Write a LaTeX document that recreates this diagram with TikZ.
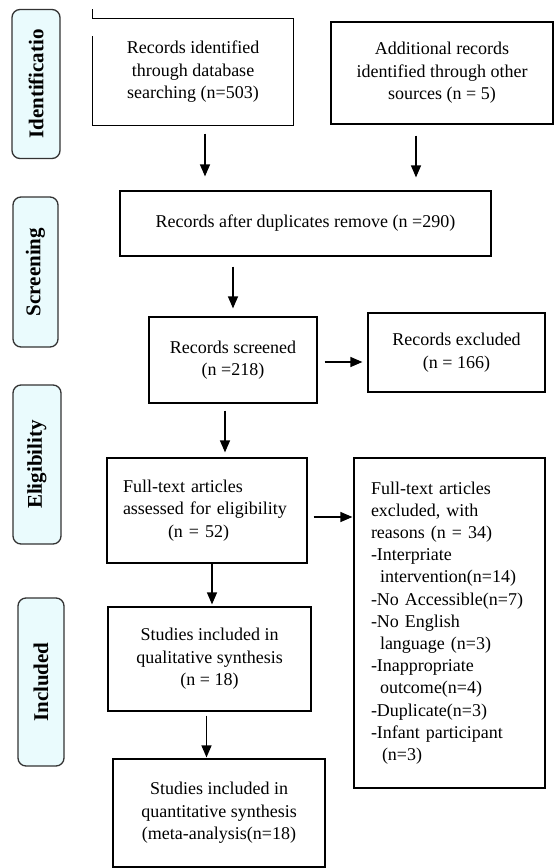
\documentclass[tikz,border=0pt]{standalone}
\usepackage{fontspec}
\setmainfont{Liberation Serif}
\usetikzlibrary{arrows.meta}
\definecolor{phasefill}{HTML}{EAFBFD}
\definecolor{phaseline}{HTML}{333333}

\begin{document}
\begin{tikzpicture}[x=1pt, y=-1pt,
    box/.style={draw, line width=1.2pt, inner sep=0pt, align=center, font=\fontsize{18}{22.5}\selectfont},
    phase/.style={draw=phaseline, fill=phasefill, rounded corners=8pt, line width=1.3pt, rotate=90, inner sep=0pt, font=\fontsize{21}{24}\selectfont\bfseries},
    arrow/.style={-{Triangle[length=12pt, width=10pt]}, line width=1.2pt}]
        \useasboundingbox (0,0) rectangle (554,868);

        \node[phase, minimum width=149pt, minimum height=48pt](ident) at (36,84) {Identificatio};
        \node[phase, minimum width=150pt, minimum height=45pt](screen) at (35.5,272) {Screening};
        \node[phase, minimum width=159pt, minimum height=48pt](elig) at (37,464.5) {Eligibility};
        \node[phase, minimum width=168pt, minimum height=46pt](incl) at (41,682) {Included};

        \node[box, draw=none, minimum width=200pt, minimum height=106pt](dbsearch) at (193,72) {Records identified\\through database\\searching (n=503)};
        \node[box, minimum width=222pt, minimum height=102pt](othersrc) at (442,73) {Additional records\\identified through other\\sources (n = 5)};
        \node[box, minimum width=371pt, minimum height=65pt](dupremoved) at (305.5,223.5) {Records after duplicates remove (n =290)};
        \node[box, minimum width=168pt, minimum height=86pt](screened) at (233,360) {Records screened\\(n =218)};
        \node[box, minimum width=177pt, minimum height=79pt](excluded) at (456.5,352.5) {Records excluded\\(n = 166)};
        \node[box, align=left, text width=168pt, minimum width=200pt, minimum height=105pt](fulltext) at (207,510.5) {Full-text articles\\assessed for eligibility\\\hspace*{45pt}(n = 52)};
        \node[box, align=left, text width=157pt, minimum width=191pt, minimum height=330pt, font=\fontsize{18}{22.2}\selectfont](ftexcluded) at (449.5,623) {Full-text articles\\excluded, with\\reasons (n = 34)\\-Interpriate\\\hspace*{9pt}intervention(n=14)\\-No Accessible(n=7)\\-No English\\\hspace*{9pt}language (n=3)\\-Inappropriate\\\hspace*{9pt}outcome(n=4)\\-Duplicate(n=3)\\-Infant participant\\\hspace*{11pt}(n=3)};
        \node[box, minimum width=203pt, minimum height=104pt](qualsyn) at (209.5,659) {Studies included in\\qualitative synthesis\\(n = 18)};
        \node[box, minimum width=212pt, minimum height=108pt](quantsyn) at (219,813) {Studies included in\\quantitative synthesis\\(meta-analysis(n=18)};

        \draw[line width=1.2pt] ([yshift=9pt]dbsearch.north west) -- (dbsearch.north west) -- (dbsearch.north east) -- (dbsearch.south east) -- (dbsearch.south west) -- ([yshift=-18pt]dbsearch.north west);

        \draw[arrow, shorten <=8pt, shorten >=14pt] ([xshift=12pt]dbsearch.south) -- ([xshift=12pt]dbsearch.south |- dupremoved.north);
        \draw[arrow, shorten <=11pt, shorten >=13pt] ([xshift=-26pt]othersrc.south) -- ([xshift=-26pt]othersrc.south |- dupremoved.north);
        \draw[arrow, shorten <=10pt, shorten >=8pt] (dupremoved.south -| screened.north) -- (screened.north);
        \draw[arrow, shorten <=7pt, shorten >=5pt] ([yshift=-2pt]screened.east) -- ([yshift=-2pt]screened.east -| excluded.west);
        \draw[arrow, shorten <=7pt, shorten >=5pt] ([xshift=-8pt]screened.south) -- ([xshift=-8pt]screened.south |- fulltext.north);
        \draw[arrow, shorten <=6pt, shorten >=1pt] ([yshift=-6.5pt]fulltext.east) -- ([yshift=-6.5pt]fulltext.east -| ftexcluded.west);
        \draw[arrow, shorten >=2pt] ([xshift=5pt]fulltext.south) -- ([xshift=5pt]fulltext.south |- qualsyn.north);
        \draw[arrow, shorten <=4pt, shorten >=1pt] ([xshift=-3pt]qualsyn.south) -- ([xshift=-3pt]qualsyn.south |- quantsyn.north);
    \end{tikzpicture}
\end{document}
